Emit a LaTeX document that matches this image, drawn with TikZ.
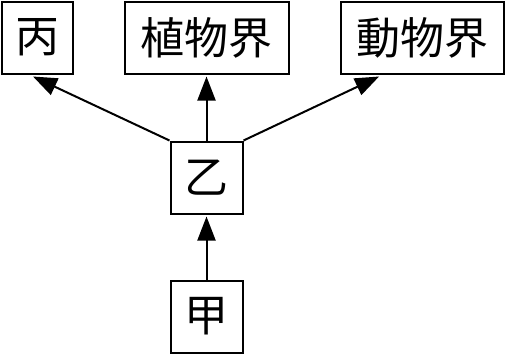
\documentclass[tikz,border=0pt]{standalone}
\usepackage{fontspec}
\newfontfamily\cjk{Noto Sans CJK JP}
\usetikzlibrary{arrows.meta,calc}
\tikzset{
  box/.style={draw, line width=2pt, inner sep=0pt, minimum height=72pt, font=\cjk\fontsize{44pt}{44pt}\selectfont},
  conn/.style={line width=2pt, -{Triangle[length=24pt,width=18pt]}}
}
\begin{document}
\begin{tikzpicture}[x=1pt,y=1pt]
\useasboundingbox (0,0) rectangle (505,-354);
\node[box, minimum width=71pt] (bing) at (37,-37.5) {丙};
\node[box, minimum width=164pt] (zhi) at (206.5,-37.5) {植物界};
\node[box, minimum width=163pt] (dong) at (422,-37.5) {動物界};
\node[box, minimum width=72pt] (yi) at (206.5,-177.5) {乙};
\node[box, minimum width=72pt] (jia) at (206.5,-316.5) {甲};
\draw[conn] (yi.north west) -- ($(bing.south)+(-4pt,-2pt)$);
\draw[conn] (yi.north) -- ($(zhi.south)+(0,-2pt)$);
\draw[conn] (yi.north east) -- ($(dong.south west)!0.24!(dong.south east)+(0,-2pt)$);
\draw[conn] (jia.north) -- ($(yi.south)+(0,-2pt)$);
\end{tikzpicture}
\end{document}
